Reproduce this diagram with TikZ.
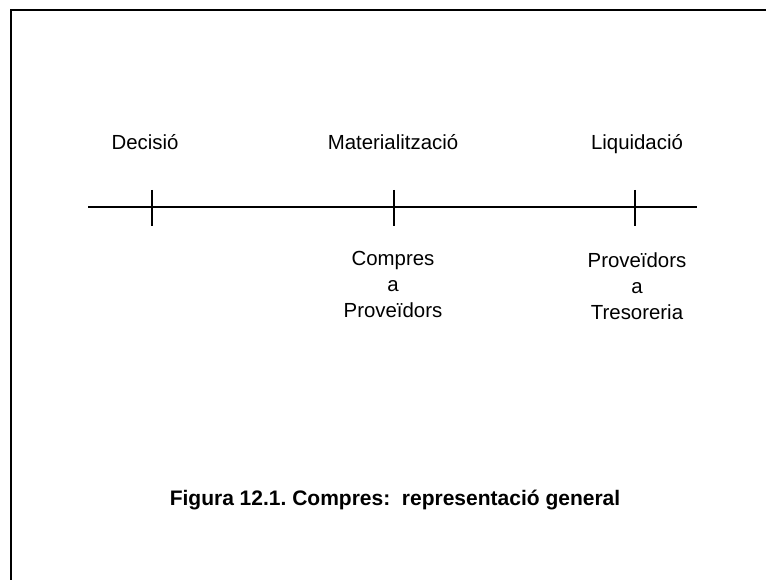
\documentclass[tikz,border=0pt]{standalone}
\usepackage{fontspec}
\setmainfont{Liberation Sans}
\frenchspacing
\begin{document}
\begin{tikzpicture}[x=1pt,y=-1pt,
  frameline/.style={line width=2pt},
  axis/.style={line width=2.8pt},
  tick/.style={line width=2.8pt},
  label/.style={inner sep=0pt, font=\fontsize{20.4}{26}\selectfont, text=black},
  sublabel/.style={label, align=center, anchor=north},
  caption/.style={inner sep=0pt, font=\fontsize{21}{25}\selectfont\bfseries, text=black}]
  \useasboundingbox[fill=white] (0,0) rectangle (766,580);

  % partial frame: left and top edges
  \coordinate (fbl) at (10.5,580);
  \coordinate (ftl) at (10.5,10);
  \coordinate (ftr) at (766,10);
  \draw[frameline] (fbl) -- (ftl) -- (ftr);

  % time axis
  \coordinate (axL) at (88,207);
  \coordinate (axR) at (697,207);
  \draw[axis] (axL) -- (axR);

  % ticks on the axis
  \coordinate (t1a) at (152,190); \coordinate (t1b) at (152,226);
  \coordinate (t2a) at (394,190); \coordinate (t2b) at (394,226);
  \coordinate (t3a) at (635,190); \coordinate (t3b) at (635,226);
  \draw[tick] (t1a) -- (t1b);
  \draw[tick] (t2a) -- (t2b);
  \draw[tick] (t3a) -- (t3b);

  % stage names above the axis
  \node[label, anchor=base] (dec) at (145,150) {Decisió};
  \node[label, anchor=base] (mat) at (393,150) {Materialització};
  \node[label, anchor=base] (liq) at (637,150) {Liquidació};

  % accounting movements below the axis
  \node[sublabel] (mov1) at (393,251.5) {Compres\\a\\Proveïdors};
  \node[sublabel] (mov2) at (637,252.5) {Proveïdors\\a\\Tresoreria};

  % caption
  \node[caption, anchor=base] (cap) at (395,505) {Figura 12.1. Compres:\ \ representació general};
\end{tikzpicture}
\end{document}
